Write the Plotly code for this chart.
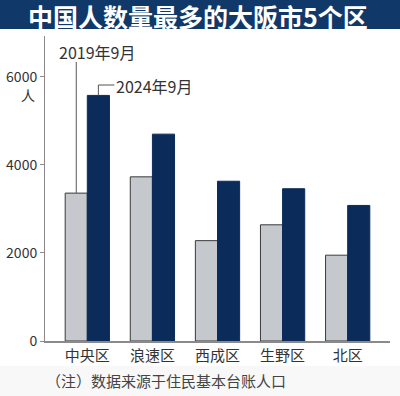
import plotly.graph_objects as go

categories = ["中央区", "浪速区", "西成区", "生野区", "北区"]
values_2019 = [3360, 3730, 2280, 2640, 1950]
values_2024 = [5580, 4700, 3630, 3460, 3080]
series_names = ["2019年9月", "2024年9月"]
y_ticks = [0, 2000, 4000, 6000]

FONT = "Noto Sans CJK SC"
GRAY = "#c5c8cc"
NAVY = "#0b2c5a"
BANNER = "#10396a"

W, H = 400, 396
L, R, T, B = 45, 10, 36, 55
PW, PH = W - L - R, H - T - B

def px_x(p):
    return (p - L) / PW

def px_y(p):
    return (H - B - p) / PH

BARGAP = 0.32
bw = (1 - BARGAP) / 2
YMAX = 6930

fig = go.Figure()
fig.add_trace(go.Bar(x=list(range(len(categories))), y=values_2019, name=series_names[0],
                     marker=dict(color=GRAY, line=dict(color="#3a3a3a", width=1)), width=bw,
                     offset=-bw))
fig.add_trace(go.Bar(x=list(range(len(categories))), y=values_2024, name=series_names[1],
                     marker=dict(color=NAVY, line=dict(color=NAVY, width=1)), width=bw,
                     offset=0))

shapes = []
# bottom light band
shapes.append(dict(type="rect", xref="paper", yref="paper", x0=px_x(0), x1=px_x(W),
                   y0=px_y(H), y1=px_y(366), fillcolor="#f8f8f8", line=dict(width=0), layer="below"))
# title banner
shapes.append(dict(type="rect", xref="paper", yref="paper", x0=px_x(0), x1=px_x(W),
                   y0=px_y(29), y1=px_y(0), fillcolor=BANNER, line=dict(width=0), layer="below"))
# leader line for 2019 series (center of first gray bar)
x19 = 0 - bw / 2
shapes.append(dict(type="line", xref="x", yref="y", x0=x19, x1=x19,
                   y0=values_2019[0], y1=(H - B - 62) / PH * YMAX,
                   line=dict(color="#555", width=1)))
# leader line for 2024 series
x24 = 0 + bw / 2
yl = (H - B - 85) / PH * YMAX
shapes.append(dict(type="path", xref="x", yref="y",
                   path=f"M {x24},{values_2024[0]} L {x24},{yl} L {x24 + 16/65.1},{yl}",
                   line=dict(color="#555", width=1)))

annotations = [
    dict(text="<b>中国人数量最多的大阪市5个区</b>", xref="paper", yref="paper",
         x=px_x(198), y=px_y(16.5), showarrow=False, xanchor="center", yanchor="middle",
         font=dict(family=FONT, size=25, color="white")),
    dict(text=series_names[0], xref="paper", yref="paper", x=px_x(57), y=px_y(52),
         showarrow=False, xanchor="left", yanchor="middle",
         font=dict(family=FONT, size=16, color="#333")),
    dict(text=series_names[1], xref="paper", yref="paper", x=px_x(114), y=px_y(86),
         showarrow=False, xanchor="left", yanchor="middle",
         font=dict(family=FONT, size=16, color="#333")),
    dict(text="人", xref="paper", yref="paper", x=px_x(28), y=px_y(95),
         showarrow=False, xanchor="center", yanchor="middle",
         font=dict(family=FONT, size=14, color="#333")),
    dict(text="（注）数据来源于住民基本台账人口", xref="paper", yref="paper", x=px_x(44), y=px_y(380),
         showarrow=False, xanchor="left", yanchor="middle",
         font=dict(family=FONT, size=15, color="#444")),
]

fig.update_layout(
    width=W, height=H, margin=dict(l=L, r=R, t=T, b=B, autoexpand=False),
    paper_bgcolor="white", plot_bgcolor="white",
    showlegend=False, barmode="overlay",
    shapes=shapes, annotations=annotations,
    font=dict(family=FONT, color="#333"),
)
fig.update_xaxes(range=[-0.65, len(categories) - 0.35], tickvals=list(range(len(categories))),
                 ticktext=categories, showline=True, linecolor="#8a8a8a", linewidth=1.5,
                 showgrid=False, zeroline=False, ticks="", automargin=False,
                 tickfont=dict(family=FONT, size=15, color="#333"))
fig.update_yaxes(range=[0, YMAX], tickvals=y_ticks, ticktext=[str(v) for v in y_ticks],
                 showline=True, linecolor="#8a8a8a", linewidth=1, showgrid=False, zeroline=False,
                 ticks="outside", ticklen=4, tickcolor="#8a8a8a", automargin=False,
                 tickfont=dict(family=FONT, size=14, color="#333"))

fig.write_html("out.html", config={"displayModeBar": False},
               post_script="document.body.style.margin='0px';document.body.style.overflow='hidden';")
